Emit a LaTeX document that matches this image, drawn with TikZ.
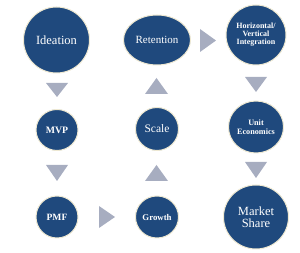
\documentclass[tikz,border=0pt]{standalone}
\usepackage{fontspec}
\setmainfont{Liberation Serif}
\usetikzlibrary{shapes.geometric}
\definecolor{bubble}{HTML}{1F497D}
\definecolor{rim}{HTML}{EFE9D2}
\definecolor{tri}{HTML}{A7ADC0}
\tikzset{
  bub/.style={ellipse, fill=bubble, draw=rim, line width=1pt, inner sep=0pt,
    text=white, align=center},
  tr/.style={fill=tri, draw=none},
}
\begin{document}
\begin{tikzpicture}[x=1pt,y=-1pt]
\useasboundingbox (0,0) rectangle (300,253);
\node[bub,font=\fontsize{12.5}{13}\selectfont,minimum width=66pt,minimum height=66pt] (ide) at (56.5,40) {Ideation};
\node[bub,font=\fontsize{11}{11}\selectfont,minimum width=67pt,minimum height=50pt] (ret) at (157,40) {Retention};
\node[bub,font=\bfseries\fontsize{8}{8}\selectfont,minimum width=60pt,minimum height=60pt] (hv) at (256,35) {Horizontal/\\Vertical\\Integration};
\node[bub,font=\bfseries\fontsize{9.8}{10}\selectfont,minimum width=42pt,minimum height=41pt] (mvp) at (57,130) {MVP};
\node[bub,font=\fontsize{11.5}{11}\selectfont,minimum width=43pt,minimum height=43pt] (sca) at (157,129) {Scale};
\node[bub,font=\bfseries\fontsize{8.2}{9}\selectfont,minimum width=55pt,minimum height=52pt] (ue) at (256,127) {Unit\\Economics};
\node[bub,font=\bfseries\fontsize{9.6}{10}\selectfont,minimum width=42pt,minimum height=42pt] (pmf) at (57,217) {PMF};
\node[bub,font=\bfseries\fontsize{8.8}{9}\selectfont,minimum width=43pt,minimum height=42pt] (gro) at (157,217) {Growth};
\node[bub,font=\fontsize{12.5}{12}\selectfont,minimum width=65pt,minimum height=64pt] (ms) at (256,217) {Market\\Share};
% triangles
\fill[tri] (46,83) -- (68,83) -- (57,97) -- cycle;
\fill[tri] (46,165) -- (68,165) -- (57,181) -- cycle;
\fill[tri] (99,206) -- (115,217) -- (99,228) -- cycle;
\fill[tri] (145,181) -- (168,181) -- (156.5,165) -- cycle;
\fill[tri] (145,94) -- (168,94) -- (156.5,78) -- cycle;
\fill[tri] (200,29) -- (216,40.5) -- (200,52) -- cycle;
\fill[tri] (245,77) -- (267,77) -- (256,92) -- cycle;
\fill[tri] (245,162) -- (267,162) -- (256,178) -- cycle;
\end{tikzpicture}
\end{document}
